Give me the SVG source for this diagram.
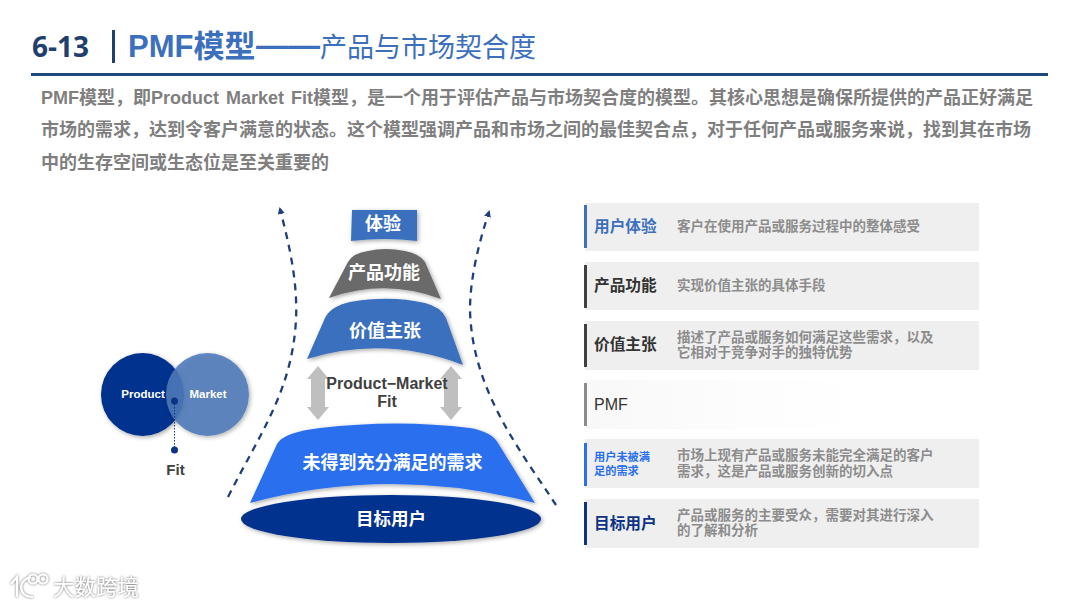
<svg xmlns="http://www.w3.org/2000/svg" width="1080" height="607" viewBox="0 0 1080 607">
<defs>
<filter id="sh" x="-20%" y="-20%" width="140%" height="150%"><feDropShadow dx="1.5" dy="1.5" stdDeviation="2" flood-color="#000" flood-opacity="0.35"/></filter>
<filter id="wm" x="-20%" y="-30%" width="140%" height="160%"><feDropShadow dx="0" dy="0" stdDeviation="1.300" flood-color="#555" flood-opacity="1"/></filter>
<linearGradient id="fade" x1="0" x2="1" y1="0" y2="0"><stop offset="0" stop-color="#f8f8f8"/><stop offset="0.6" stop-color="#fdfdfd"/><stop offset="1" stop-color="#fff"/></linearGradient>
<marker id="ah" markerWidth="8" markerHeight="8" refX="5" refY="3.5" orient="auto" markerUnits="userSpaceOnUse"><path d="M0,0 L7,3.5 L0,7 Z" fill="#1f3f7c"/></marker>
</defs>
<style>
text{font-family:"Liberation Sans","Noto Sans CJK SC",sans-serif}
.body{font-size:18px;font-weight:700;fill:#7f7f7f}
.w{fill:#fff;font-weight:700;text-anchor:middle}
.panel{fill:#efefef}
.head{font-size:15.700px;font-weight:700}
.desc{font-size:13.500px;font-weight:700;fill:#8c8c8c}
.dash{fill:none;stroke:#1f3f7c;stroke-width:2.300;stroke-dasharray:7 6}
.dbl{fill:#bfbfbf}
.lbl{font-size:16px;font-weight:700;text-anchor:middle;fill:#404040}
</style>
<rect width="1080" height="607" fill="#fff"/>
<g id="title">
<text x="32" y="57" font-size="28" font-weight="700" fill="#1f3f6e" style="font-family:'Open Sans','Noto Sans CJK SC',sans-serif">6-13</text>
<rect x="112" y="30" width="3" height="33" fill="#1f3f6e"/>
<text x="128" y="57" font-size="31" font-weight="700" fill="#3c70bd">PMF模型</text>
<text x="256" y="56" font-size="32" fill="#3c70bd" font-weight="700">——</text>
<text x="320" y="57" font-size="27" fill="#3c70bd">产品与市场契合度</text>
<rect x="31" y="73" width="1017" height="3" fill="#1f497d"/>
</g>
<g id="intro">
<text class="body" x="41" y="104" word-spacing="2">PMF模型，即Product Market Fit模型，是一个用于评估产品与市场契合度的模型。其核心思想是确保所提供的产品正好满足</text>
<text class="body" x="41" y="136">市场的需求，达到令客户满意的状态。这个模型强调产品和市场之间的最佳契合点，对于任何产品或服务来说，找到其在市场</text>
<text class="body" x="41" y="169">中的生存空间或生态位是至关重要的</text>
</g>
<g id="connectors">
<path class="dash" d="M228,497 C262,430 292,390 296,320 C298,280 288,240 280,209" marker-end="url(#ah)"/>
<path class="dash" d="M556,505 C520,450 472,390 470,310 C470,280 478,245 489,212" marker-end="url(#ah)"/>
<path class="dbl" d="M318,366 L329,379 L325,379 L325,407 L329,407 L318,420 L307,407 L311,407 L311,379 L307,379 Z"/>
<path class="dbl" d="M451,366 L462,379 L458,379 L458,407 L462,407 L451,420 L440,407 L444,407 L444,379 L440,379 Z"/>
</g>
<g id="venn">
<circle cx="142.500" cy="394.500" r="41.500" fill="#04318e" filter="url(#sh)"/>
<circle cx="207.500" cy="394.500" r="41.500" fill="#4f7ab8" fill-opacity="0.88" filter="url(#sh)"/>
<text x="143" y="398" font-size="11.500" class="w">Product</text>
<text x="208" y="398" font-size="11.500" class="w">Market</text>
<circle cx="174.500" cy="401" r="3.500" fill="#0c3384"/>
<line x1="174.500" y1="401" x2="174.500" y2="450" stroke="#0c3384" stroke-width="1" stroke-dasharray="1.500 1.500"/>
<circle cx="174.500" cy="450" r="3.500" fill="#0c3384"/>
<text x="175.500" y="475" font-size="15" font-weight="700" text-anchor="middle" fill="#404040">Fit</text>
</g>
<g id="node-tiyan">
<path d="M352,210 L417,210 L417,241 Q385,237 351,241 Z" fill="#3a6fbe" filter="url(#sh)"/>
<text x="383" y="230" font-size="18" class="w">体验</text>
</g>
<g id="node-gongneng">
<path d="M329,298 L348,262 Q353,253 368,251 Q385,247 405,251 Q420,254 425,262 L441,299 Q385,278 329,298 Z" fill="#6a6a6a" filter="url(#sh)"/>
<text x="384" y="279" font-size="18" class="w">产品功能</text>
</g>
<g id="node-jiazhi">
<path d="M307,359 L325,318 Q331,306 350,302 Q390,295 425,303 Q441,307 446,318 L463,365 Q385,335 307,359 Z" fill="#3a6fbe" filter="url(#sh)"/>
<text x="385" y="337" font-size="18" class="w">价值主张</text>
</g>
<g id="node-pmf">
<text class="lbl" x="387" y="389">Product−Market</text>
<text class="lbl" x="387" y="407">Fit</text>
</g>
<g id="node-xuqiu">
<path d="M250,503 L277,444 Q284,432 320,428 Q397,419 470,428 Q492,432 498,443 L535,503 Q390,465 250,503 Z" fill="#2a70ee" filter="url(#sh)"/>
<text x="392.500" y="469" font-size="18" class="w">未得到充分满足的需求</text>
</g>
<g id="node-yonghu">
<ellipse cx="391" cy="519" rx="150" ry="24" fill="#04318e" filter="url(#sh)"/>
<text x="391" y="525" font-size="17.500" class="w">目标用户</text>
</g>
<g id="row-1">
<rect class="panel" x="585" y="203" width="394" height="48"/><rect x="584" y="205" width="3" height="43" fill="#3c70bd"/>
<text class="head" x="594" y="232" fill="#3c70bd">用户体验</text>
<text class="desc" x="677" y="231">客户在使用产品或服务过程中的整体感受</text>
</g>
<g id="row-2">
<rect class="panel" x="585" y="262" width="394" height="48"/><rect x="584" y="265" width="3" height="43" fill="#404040"/>
<text class="head" x="594" y="291" fill="#333">产品功能</text>
<text class="desc" x="677" y="290">实现价值主张的具体手段</text>
</g>
<g id="row-3">
<rect class="panel" x="585" y="321" width="394" height="49"/><rect x="584" y="324" width="3" height="43" fill="#404040"/>
<text class="head" x="594" y="350" fill="#333">价值主张</text>
<text class="desc" x="677" y="342">描述了产品或服务如何满足这些需求，以及</text>
<text class="desc" x="677" y="357">它相对于竞争对手的独特优势</text>
</g>
<g id="row-4">
<rect x="585" y="380" width="280" height="49" fill="url(#fade)"/><rect x="584" y="383" width="3" height="43" fill="#8c8c8c"/>
<text x="594" y="410" font-size="16" fill="#333">PMF</text>
</g>
<g id="row-5">
<rect class="panel" x="585" y="439" width="394" height="49"/><rect x="584" y="443" width="3" height="43" fill="#2a70ee"/>
<text x="594" y="461" font-size="11.200" font-weight="700" fill="#2a70ee">用户未被满</text>
<text x="594" y="475" font-size="11.200" font-weight="700" fill="#2a70ee">足的需求</text>
<text class="desc" x="677" y="460">市场上现有产品或服务未能完全满足的客户</text>
<text class="desc" x="677" y="476">需求，这是产品或服务创新的切入点</text>
</g>
<g id="row-6">
<rect class="panel" x="585" y="499" width="394" height="49"/><rect x="584" y="502" width="3" height="43" fill="#0c3384"/>
<text class="head" x="594" y="529" fill="#0c3384">目标用户</text>
<text class="desc" x="677" y="520">产品或服务的主要受众，需要对其进行深入</text>
<text class="desc" x="677" y="535">的了解和分析</text>
</g>
<g id="watermark" filter="url(#wm)">
<g fill="none" stroke="#fff" stroke-width="2.200">
<path d="M11,584 L17,577 L17,597"/>
<path d="M31,577 Q22,579 21,587 Q22,597 33,597"/>
<circle cx="33" cy="579" r="4.500"/>
<circle cx="43" cy="579" r="4.500"/>
</g>
<text x="53" y="595" font-size="21.500" fill="#fff" font-weight="400">大数跨境</text>
</g>
</svg>
